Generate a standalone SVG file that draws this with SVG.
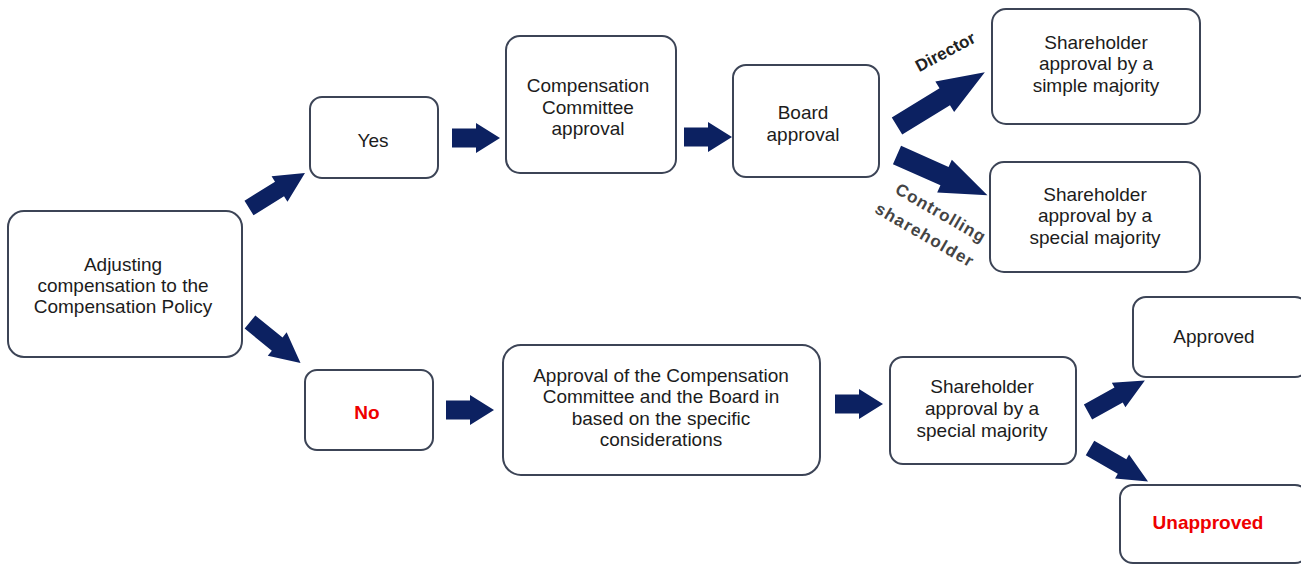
<svg xmlns="http://www.w3.org/2000/svg" width="1301" height="565" viewBox="0 0 1301 565">
<style>
.box{fill:#fff;stroke:#3c4456;stroke-width:2}
.t{font-family:"Liberation Sans",Arial,sans-serif;font-size:19px;fill:#1c1c1c;text-anchor:middle}
.red{fill:#ee0000;font-weight:bold}
.arr{fill:#0c2161}
.lab{font-family:"Liberation Sans",Arial,sans-serif;font-size:17px;font-weight:bold;text-anchor:middle}
</style>
<rect width="1301" height="565" fill="#fff"/>
<g id="connectors">
<path class="arr" transform="translate(249,208) rotate(-32)" d="M0,-8.5 L36,-8.5 L36,-15 L66,0 L36,15 L36,8.5 L0,8.5 Z"/>
<path class="arr" transform="translate(250,322) rotate(39)" d="M0,-8.5 L35,-8.5 L35,-15 L65,0 L35,15 L35,8.5 L0,8.5 Z"/>
<path class="arr" transform="translate(452,138)" d="M0,-9.5 L24,-9.5 L24,-15 L48,0 L24,15 L24,9.5 L0,9.5 Z"/>
<path class="arr" transform="translate(684,137)" d="M0,-9.5 L24,-9.5 L24,-15 L48,0 L24,15 L24,9.5 L0,9.5 Z"/>
<path class="arr" transform="translate(897,126) rotate(-31.5)" d="M0,-10 L56,-10 L56,-18 L103,0 L56,18 L56,10 L0,10 Z"/>
<path class="arr" transform="translate(897,155) rotate(24)" d="M0,-10 L52,-10 L52,-18 L99,0 L52,18 L52,10 L0,10 Z"/>
<path class="arr" transform="translate(446,410)" d="M0,-9.5 L24,-9.5 L24,-15 L48,0 L24,15 L24,9.5 L0,9.5 Z"/>
<path class="arr" transform="translate(835,404)" d="M0,-9.5 L24,-9.5 L24,-15 L48,0 L24,15 L24,9.5 L0,9.5 Z"/>
<path class="arr" transform="translate(1088,412) rotate(-29)" d="M0,-8.5 L35,-8.5 L35,-14 L65,0 L35,14 L35,8.5 L0,8.5 Z"/>
<path class="arr" transform="translate(1090,448) rotate(30)" d="M0,-8.5 L37,-8.5 L37,-14 L67,0 L37,14 L37,8.5 L0,8.5 Z"/>
<text class="lab" fill="#222" transform="translate(948,57) rotate(-28)">Director</text>
<text class="lab" fill="#444" letter-spacing="1" transform="translate(938,218) rotate(30)">Controlling</text>
<text class="lab" fill="#444" letter-spacing="1.3" transform="translate(922,240) rotate(30)">shareholder</text>
</g>
<g id="adjusting">
<rect class="box" x="8" y="211" width="234" height="146" rx="16"/>
<text class="t" x="123" y="271">Adjusting</text>
<text class="t" x="123" y="292">compensation to the</text>
<text class="t" x="123" y="313">Compensation Policy</text>
</g>
<g id="yes">
<rect class="box" x="310" y="97" width="128" height="81" rx="12"/>
<text class="t" x="373" y="147">Yes</text>
</g>
<g id="cc">
<rect class="box" x="506" y="36" width="170" height="137" rx="14"/>
<text class="t" x="588" y="92">Compensation</text>
<text class="t" x="588" y="114">Committee</text>
<text class="t" x="588" y="135">approval</text>
</g>
<g id="board">
<rect class="box" x="733" y="65" width="146" height="112" rx="13"/>
<text class="t" x="803" y="119">Board</text>
<text class="t" x="803" y="141">approval</text>
</g>
<g id="simple">
<rect class="box" x="992" y="9" width="208" height="115" rx="14"/>
<text class="t" x="1096" y="49">Shareholder</text>
<text class="t" x="1096" y="70">approval by a</text>
<text class="t" x="1096" y="92">simple majority</text>
</g>
<g id="special1">
<rect class="box" x="990" y="162" width="210" height="110" rx="14"/>
<text class="t" x="1095" y="201">Shareholder</text>
<text class="t" x="1095" y="222">approval by a</text>
<text class="t" x="1095" y="244">special majority</text>
</g>
<g id="no">
<rect class="box" x="305" y="370" width="128" height="80" rx="12"/>
<text class="t red" x="367" y="419">No</text>
</g>
<g id="approval">
<rect class="box" x="503" y="345" width="317" height="130" rx="18"/>
<text class="t" x="661" y="382">Approval of the Compensation</text>
<text class="t" x="661" y="403">Committee and the Board in</text>
<text class="t" x="661" y="425">based on the specific</text>
<text class="t" x="661" y="446">considerations</text>
</g>
<g id="special2">
<rect class="box" x="890" y="357" width="186" height="107" rx="13"/>
<text class="t" x="982" y="393">Shareholder</text>
<text class="t" x="982" y="415">approval by a</text>
<text class="t" x="982" y="437">special majority</text>
</g>
<g id="approved">
<rect class="box" x="1133" y="297" width="175" height="80" rx="13"/>
<text class="t" x="1214" y="343">Approved</text>
</g>
<g id="unapproved">
<rect class="box" x="1120" y="485" width="188" height="78" rx="13"/>
<text class="t red" x="1208" y="529">Unapproved</text>
</g>
</svg>
